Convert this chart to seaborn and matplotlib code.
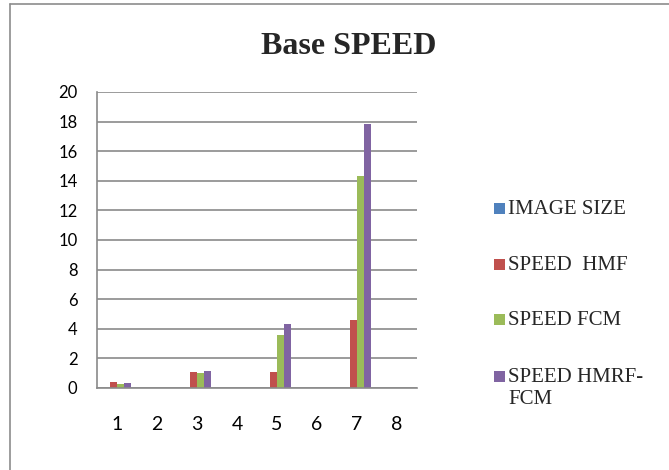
import matplotlib
matplotlib.use("Agg")
import matplotlib.pyplot as plt
from matplotlib.patches import Rectangle
from matplotlib.lines import Line2D
import pandas as pd
import seaborn as sns

# Run numbers along the x axis
categories = ["1", "2", "3", "4", "5", "6", "7", "8"]

# Series values per run (zero where nothing was recorded)
image_size = [0, 0, 0, 0, 0, 0, 0, 0]
speed_hmf = [0.41, 0, 1.10, 0, 1.11, 0, 4.57, 0]
speed_fcm = [0.27, 0, 0.99, 0, 3.55, 0, 14.32, 0]
speed_hmrf_fcm = [0.34, 0, 1.17, 0, 4.34, 0, 17.84, 0]

series_names = ["IMAGE SIZE", "SPEED  HMF", "SPEED FCM", "SPEED HMRF-\nFCM"]
series_colors = ["#4F81BD", "#C0504D", "#9BBB59", "#8064A2"]
y_ticks = [0, 2, 4, 6, 8, 10, 12, 14, 16, 18, 20]

rows = []
for name, vals in zip(series_names, [image_size, speed_hmf, speed_fcm, speed_hmrf_fcm]):
    for c, v in zip(categories, vals):
        rows.append({"run": c, "series": name, "value": v})
df = pd.DataFrame(rows)

sns.set_style("white")
plt.rcParams["font.family"] = ["Lato", "DejaVu Sans"]

W, H = 669, 470
fig = plt.figure(figsize=(W / 100, H / 100), dpi=100)
ax = fig.add_axes([97 / W, 1 - 388 / H, 320 / W, 296 / H])

sns.barplot(data=df, x="run", y="value", hue="series", order=categories,
            hue_order=series_names, palette=series_colors, width=0.7,
            linewidth=0, saturation=1, legend=False, ax=ax)

grid_color = "#8a8a8a"
ax.set_ylim(0, 20)
ax.set_xlim(-0.5, len(categories) - 0.5)
ax.set_yticks(y_ticks)
ax.set_yticklabels([str(t) for t in y_ticks])
ax.yaxis.grid(True, color=grid_color, linewidth=1.2)
ax.xaxis.grid(False)
ax.set_axisbelow(True)
ax.set_xlabel("")
ax.set_ylabel("")
for side in ["top", "right"]:
    ax.spines[side].set_visible(False)
for side in ["left", "bottom"]:
    ax.spines[side].set_color(grid_color)
    ax.spines[side].set_linewidth(1.2)
ax.tick_params(axis="y", length=0, pad=14, labelsize=12, colors="#000000")
ax.tick_params(axis="x", length=0, pad=20, labelsize=14, colors="#000000")

# Title
fig.text(349 / W, 1 - 47 / H, "Base SPEED", ha="center", va="center",
         fontsize=23, fontweight="bold", family=["Liberation Serif"])

# Legend drawn as swatches plus labels on the right
legend_y = [208.5, 264.5, 319, 376]
for name, color, yc in zip(series_names, series_colors, legend_y):
    fig.add_artist(Rectangle((494 / W, 1 - (yc + 5.5) / H), 11 / W, 11 / H,
                             transform=fig.transFigure, facecolor=color,
                             edgecolor="none"))
    fig.text(508 / W, 1 - (yc - 8) / H, name, ha="left", va="top",
             fontsize=15, family=["Liberation Serif"], linespacing=1.2)

# Chart area frame (top and left edges)
frame_color = "#8c8c8c"
fig.add_artist(Line2D([10 / W, 1], [1 - 4 / H, 1 - 4 / H],
                      transform=fig.transFigure, color=frame_color, linewidth=1.2))
fig.add_artist(Line2D([10 / W, 10 / W], [0, 1 - 4 / H],
                      transform=fig.transFigure, color=frame_color, linewidth=1.2))

fig.savefig("out.png", dpi=100)
